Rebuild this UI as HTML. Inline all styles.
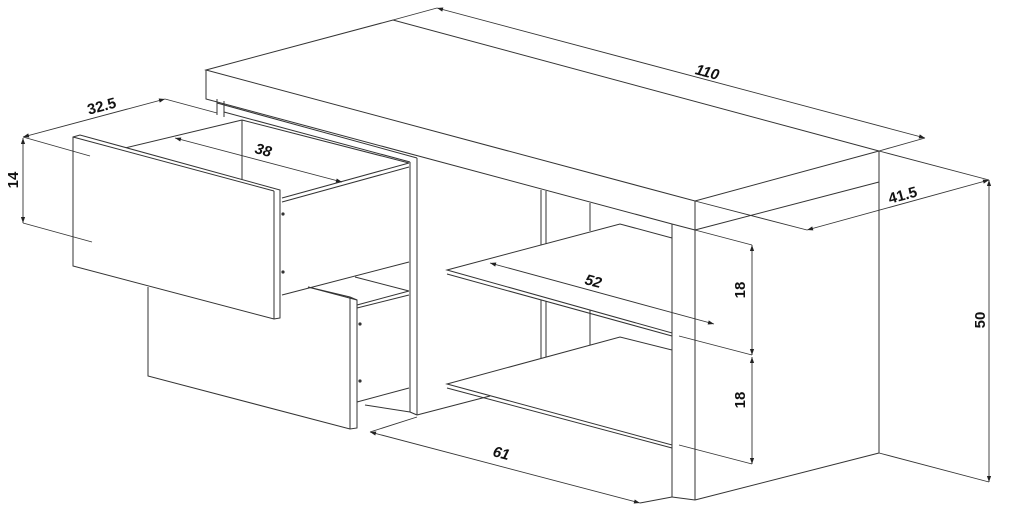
<!DOCTYPE html>
<html><head><style>
html,body{margin:0;padding:0;background:#fff;width:1024px;height:512px;overflow:hidden}
svg{display:block}
text{font-family:"Liberation Sans",sans-serif;font-size:15px;font-weight:bold;font-style:italic;fill:#111}
</style></head><body>
<svg width="1024" height="512" viewBox="0 0 1024 512">
<defs>
<marker id="a" viewBox="0 0 10 10" refX="10" refY="5" markerWidth="9" markerHeight="6" orient="auto-start-reverse" markerUnits="userSpaceOnUse"><path d="M0,1.5 L10,5 L0,8.5z" fill="#222"/></marker>
</defs>
<g stroke="#333" stroke-width="1" fill="none">
<polygon points="206,70 393,20 879,151 695,201" fill="#fff"/>
<polyline points="206,70 206,99 672,224"/>
<line x1="695" y1="201" x2="695" y2="230"/>
<polyline points="695,230 879,182"/>
<line x1="879" y1="151" x2="879" y2="453"/>
<line x1="695" y1="230" x2="695" y2="500"/>
<line x1="695" y1="500" x2="879" y2="453"/>
<line x1="672" y1="224" x2="672" y2="497"/>
<line x1="672" y1="224" x2="695" y2="230"/>
<line x1="672" y1="497" x2="695" y2="500"/>
<line x1="541" y1="190" x2="541" y2="250"/><line x1="546" y1="191" x2="546" y2="250"/>
<line x1="541" y1="300" x2="541" y2="363"/><line x1="546" y1="301" x2="546" y2="363"/>
<line x1="590" y1="203" x2="590" y2="231"/><line x1="590" y1="300" x2="590" y2="345"/>
<polygon points="447,270 620,224 672,238 672,333" fill="#fff"/>
<line x1="447" y1="274" x2="672" y2="336"/>
<polygon points="447,384 620,337 672,350 672,445" fill="#fff"/>
<line x1="447" y1="388" x2="672" y2="448"/>
<line x1="417" y1="158" x2="417" y2="415"/>
<line x1="410" y1="162" x2="410" y2="412"/>
<line x1="217" y1="103" x2="417" y2="158"/>
<line x1="217" y1="99" x2="217" y2="115"/><line x1="224" y1="101" x2="224" y2="117"/>
<line x1="224" y1="112" x2="410" y2="162"/>
<line x1="417" y1="415" x2="490" y2="396"/>
<line x1="417" y1="415" x2="410" y2="412"/>
<polyline points="148,287 148,376 350,429 357,428 357,300 350,297 308,287"/>
<line x1="350" y1="297" x2="350" y2="429"/>
<line x1="357" y1="305" x2="409" y2="291"/>
<line x1="357" y1="308" x2="409" y2="295"/>
<line x1="357" y1="402" x2="409" y2="388"/>
<line x1="365" y1="405" x2="410" y2="412"/>
<line x1="308" y1="287" x2="357" y2="300"/>
<line x1="125" y1="148" x2="242" y2="120"/>
<line x1="242" y1="120" x2="409" y2="163"/>
<line x1="242" y1="120" x2="242" y2="180"/>
<line x1="282" y1="198" x2="409" y2="163"/>
<line x1="282" y1="202" x2="409" y2="167"/>
<line x1="282" y1="295" x2="409" y2="262"/>
<line x1="355" y1="277" x2="409" y2="291"/>
<polygon points="73,137 80,135 280,190 280,318 274,319 73,266" fill="#fff"/>
<line x1="73" y1="137" x2="274" y2="191"/>
<line x1="274" y1="191" x2="274" y2="319"/>
</g>
<g fill="#333">
<circle cx="283" cy="214" r="1.6"/><circle cx="283" cy="272" r="1.6"/>
<circle cx="360" cy="324" r="1.6"/><circle cx="360" cy="381" r="1.6"/>
</g>
<g stroke="#333" stroke-width="0.9" fill="none">
<line x1="393" y1="20" x2="437" y2="8"/>
<line x1="437" y1="8" x2="925" y2="138" marker-start="url(#a)" marker-end="url(#a)"/>
<line x1="879" y1="151" x2="925" y2="138"/>
<line x1="879" y1="151" x2="989" y2="180"/>
<line x1="695" y1="201" x2="807" y2="230"/>
<line x1="807" y1="230" x2="989" y2="180" marker-start="url(#a)" marker-end="url(#a)"/>
<line x1="879" y1="453" x2="989" y2="482"/>
<line x1="989" y1="180" x2="989" y2="482" marker-start="url(#a)" marker-end="url(#a)"/>
<line x1="695" y1="230" x2="752" y2="245"/>
<line x1="679" y1="336" x2="752" y2="355"/>
<line x1="679" y1="445" x2="752" y2="464"/>
<line x1="752" y1="245" x2="752" y2="355" marker-start="url(#a)" marker-end="url(#a)"/>
<line x1="752" y1="357" x2="752" y2="464" marker-start="url(#a)" marker-end="url(#a)"/>
<line x1="490" y1="263" x2="714" y2="324" marker-start="url(#a)" marker-end="url(#a)"/>
<line x1="370" y1="432" x2="417" y2="417"/>
<line x1="370" y1="432" x2="640" y2="503" marker-start="url(#a)" marker-end="url(#a)"/>
<line x1="640" y1="503" x2="672" y2="497"/>
<line x1="23" y1="137" x2="90" y2="156"/>
<line x1="23" y1="223" x2="92" y2="242"/>
<line x1="23" y1="138" x2="23" y2="223" marker-start="url(#a)" marker-end="url(#a)"/>
<line x1="23" y1="137" x2="165" y2="99" marker-start="url(#a)" marker-end="url(#a)"/>
<line x1="165" y1="99" x2="217" y2="113"/>
<line x1="175" y1="138" x2="342" y2="182" marker-start="url(#a)" marker-end="url(#a)"/>
</g>
<text transform="translate(706,77) rotate(15)" text-anchor="middle">110</text>
<text transform="translate(904,200) rotate(-15)" text-anchor="middle" style="font-style:normal">41.5</text>
<text transform="translate(985,320) rotate(-90)" text-anchor="middle" style="font-style:normal">50</text>
<text transform="translate(745,290) rotate(-90)" text-anchor="middle" style="font-style:normal">18</text>
<text transform="translate(745,400) rotate(-90)" text-anchor="middle" style="font-style:normal">18</text>
<text transform="translate(592,286) rotate(15)" text-anchor="middle">52</text>
<text transform="translate(500,458) rotate(15)" text-anchor="middle">61</text>
<text transform="translate(18,180) rotate(-90)" text-anchor="middle" style="font-style:normal">14</text>
<text transform="translate(103,111) rotate(-15)" text-anchor="middle" style="font-style:normal">32.5</text>
<text transform="translate(262,155) rotate(15)" text-anchor="middle">38</text>
</svg>
</body></html>
